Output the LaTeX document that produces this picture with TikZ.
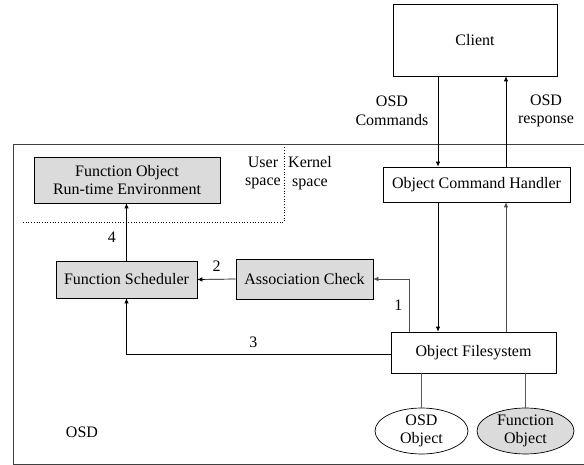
\documentclass[tikz,border=0pt]{standalone}
\usepackage{fontspec}
\setmainfont{Liberation Serif}
\usetikzlibrary{arrows.meta,shapes.geometric}

\tikzset{
  blk/.style={draw, line width=0.7pt, fill=white, align=center, inner sep=2pt},
  gblk/.style={blk, fill=gray!28},
  obj/.style={draw, ellipse, line width=0.7pt, align=center, inner sep=0pt},
  lbl/.style={align=center, inner sep=0pt},
  arr/.style={line width=0.7pt, -{Latex[length=5pt,width=4.5pt]}},
  gln/.style={line width=0.9pt, draw=black!65}
}

\begin{document}
\begin{tikzpicture}[x=1pt,y=-1pt,font=\fontsize{16}{18.5}\selectfont]
  \useasboundingbox (0,0) rectangle (584,465);
  % OSD frame, open at the right
  \draw[line width=0.7pt, draw=black!75] (584,144) -- (13,144) -- (13,464) -- (584,464);
  % user / kernel split
  \draw[dotted, line width=0.7pt] (23,222) -- (284,222) -- (284,146);

  % boxes
  \node[blk, minimum width=164pt, minimum height=72pt] (client) at (475,40) {Client};
  \node[blk, minimum width=187pt, minimum height=35pt] (och) at (476.5,184.5) {Object Command Handler};
  \node[blk, minimum width=165pt, minimum height=41pt] (ofs) at (473.5,352.5) {Object Filesystem};
  \node[gblk, minimum width=186pt, minimum height=46pt] (fore) at (127,180) {Function Object\\Run-time Environment};
  \node[gblk, minimum width=141pt, minimum height=37pt] (fsched) at (126.5,279.5) {Function Scheduler};
  \node[gblk, minimum width=137pt, minimum height=40pt] (assoc) at (304.5,279) {Association Check};
  \node[obj, fill=white, minimum width=93pt, minimum height=40pt] (osdobj) at (421.5,431) {OSD\\Object};
  \node[obj, fill=gray!28, minimum width=97pt, minimum height=40pt] (funobj) at (525.5,431) {Function\\Object};

  % texts
  \node[lbl] (cmdtxt) at (392,111) {OSD\\Commands};
  \node[lbl] (rsptxt) at (546,111) {OSD\\response};
  \node[lbl] (usertxt) at (263,173) {User\\space};
  \node[lbl] (kerntxt) at (310,173) {Kernel\\space};
  \node[lbl] (osdtxt) at (82,432) {OSD};

  % connectors
  \coordinate (cmd) at (438,0);
  \coordinate (rsp) at (506,0);
  \coordinate (one) at (409,0);
  \coordinate (three) at (0,354);
  \draw[arr] (client.south -| cmd) -- (och.north -| cmd);
  \draw[arr] (och.north -| rsp) -- (client.south -| rsp);
  \draw[arr] (och.south -| cmd) -- (ofs.north -| cmd);
  \draw[arr, draw=black!70] (ofs.north -| rsp) -- (och.south -| rsp);
  \draw[arr, draw=black!70] (ofs.north -| one) |- (assoc.east) node[pos=0.25, left=3pt] (n1) {1};
  \draw[arr] (assoc.west) -- (fsched.east) node[midway, above=4pt] (n2) {2};
  \draw[arr] (ofs.west |- three) -| (fsched.south) node[pos=0.26, above=3pt] (n3) {3};
  \draw[arr] (fsched.north) -- (fsched.north |- fore.south) node[pos=0.4, left=7pt] (n4) {4};
  \draw[gln] (ofs.south -| osdobj.north) -- (osdobj.north);
  \draw[gln] (ofs.south -| funobj.north) -- (funobj.north);
\end{tikzpicture}
\end{document}
